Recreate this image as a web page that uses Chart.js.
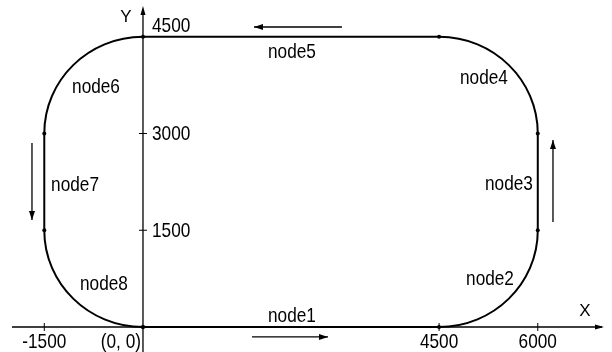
<!DOCTYPE html>
<html>
<head>
<meta charset="utf-8">
<script src="https://cdn.jsdelivr.net/npm/chart.js@4.4.1/dist/chart.umd.min.js"></script>
<style>
  html, body { margin: 0; padding: 0; background: #fff; }
  #wrap { width: 612px; height: 352px; }
</style>
</head>
<body>
<div id="wrap"><canvas id="track" width="612" height="352"></canvas></div>
<script>
// === Track data (mm) ===
const trackX = [0, 4500, 6000, 6000, 4500, 0, -1500, -1500, 0];
const trackY = [0, 0, 1500, 3000, 4500, 4500, 3000, 1500, 0];
// centres of the four corner arcs (segments 1, 3, 5, 7)
const arcCenterX = [4500, 4500, 0, 0];
const arcCenterY = [1500, 3000, 3000, 1500];

const nodeNames = ["node1", "node2", "node3", "node4", "node5", "node6", "node7", "node8"];

const xTickValues = [-1500, 0, 4500, 6000];
const xTickLabels = ["-1500", "(0, 0)", "4500", "6000"];
const yTickValues = [1500, 3000, 4500];
const yTickLabels = ["1500", "3000", "4500"];

// === Layout (data units) ===
const nodeLabelPos = [
  [2264, 171], [5274, 744], [5562, 2217], [5182, 3860],
  [2264, 4264], [-714, 3721], [-1033, 2202], [-593, 667],
];
// direction arrows: [x0, y0, x1, y1], head at (x1, y1)
const arrows = [
  [3024, 4651, 1687, 4651],
  [1657, -155, 2812, -155],
  [6231, 1628, 6231, 2899],
  [-1687, 2853, -1687, 1659],
];

function drawText(ctx, text, x, y, align, size, sx) {
  ctx.save();
  ctx.translate(x, y);
  ctx.scale(sx, 1);
  ctx.font = size + 'px "Liberation Sans", Arial, sans-serif';
  ctx.textAlign = align;
  ctx.textBaseline = "middle";
  ctx.fillStyle = "#000";
  ctx.fillText(text, 0, 0);
  ctx.restore();
}

function arrowHead(ctx, x0, y0, x1, y1, len, half) {
  const a = Math.atan2(y1 - y0, x1 - x0);
  ctx.beginPath();
  ctx.moveTo(x1, y1);
  ctx.lineTo(x1 - len * Math.cos(a) + half * Math.sin(a), y1 - len * Math.sin(a) - half * Math.cos(a));
  ctx.lineTo(x1 - len * Math.cos(a) - half * Math.sin(a), y1 - len * Math.sin(a) + half * Math.cos(a));
  ctx.closePath();
  ctx.fill();
}

const diagramPlugin = {
  id: "diagram",
  beforeDatasetsDraw(chart) {
    const { ctx, scales: { x, y } } = chart;
    const W = chart.width, H = chart.height;
    const px = (v) => x.getPixelForValue(v);
    const py = (v) => y.getPixelForValue(v);
    const ox = px(0), oy = py(0);

    ctx.save();
    ctx.strokeStyle = "#000";
    ctx.fillStyle = "#000";

    // axes
    ctx.lineWidth = 1.3;
    ctx.beginPath();
    ctx.moveTo(12, oy);
    ctx.lineTo(W - 10, oy);
    ctx.moveTo(ox, H);
    ctx.lineTo(ox, 10);
    ctx.stroke();
    arrowHead(ctx, ox - 10, oy, W - 8, oy, 9, 2.5);
    arrowHead(ctx, ox, oy + 10, ox, 6, 9, 2.5);

    // ticks
    ctx.lineWidth = 1;
    ctx.beginPath();
    xTickValues.forEach((v) => {
      if (v === 0) return;
      ctx.moveTo(px(v), oy - 4);
      ctx.lineTo(px(v), oy + 4);
    });
    yTickValues.forEach((v) => {
      ctx.moveTo(ox - 4, py(v));
      ctx.lineTo(ox + 4, py(v));
    });
    ctx.stroke();

    // tick labels
    xTickValues.forEach((v, i) => {
      if (v === 0) drawText(ctx, xTickLabels[i], ox - 2, oy + 15, "right", 21, 0.82);
      else drawText(ctx, xTickLabels[i], px(v), oy + 15, "center", 21, 0.82);
    });
    yTickValues.forEach((v, i) => {
      const ty = v === 4500 ? py(v) - 11 : py(v) + 1;
      drawText(ctx, yTickLabels[i], ox + 9, ty, "left", 21, 0.82);
    });
    drawText(ctx, "X", W - 27, oy - 16, "center", 17, 1);
    drawText(ctx, "Y", ox - 17, 17, "center", 17, 1);

    // track: straight segments and quarter-arc corners
    ctx.lineWidth = 2;
    ctx.beginPath();
    ctx.moveTo(px(trackX[0]), py(trackY[0]));
    const k = 0.5523;
    for (let i = 0; i < trackX.length - 1; i++) {
      const bx = px(trackX[i + 1]), by = py(trackY[i + 1]);
      if (i % 2 === 0) {
        ctx.lineTo(bx, by);
      } else {
        const ax = px(trackX[i]), ay = py(trackY[i]);
        const cx = px(arcCenterX[(i - 1) / 2]), cy = py(arcCenterY[(i - 1) / 2]);
        const kx = ax + bx - cx, ky = ay + by - cy;
        ctx.bezierCurveTo(
          ax + k * (kx - ax), ay + k * (ky - ay),
          bx + k * (kx - bx), by + k * (ky - by),
          bx, by
        );
      }
    }
    ctx.stroke();

    // direction arrows
    ctx.lineWidth = 1.3;
    arrows.forEach(([x0, y0, x1, y1]) => {
      ctx.beginPath();
      ctx.moveTo(px(x0), py(y0));
      ctx.lineTo(px(x1), py(y1));
      ctx.stroke();
      arrowHead(ctx, px(x0), py(y0), px(x1), py(y1), 9, 3);
    });

    // node labels
    nodeNames.forEach((name, i) => {
      drawText(ctx, name, px(nodeLabelPos[i][0]), py(nodeLabelPos[i][1]), "center", 21, 0.82);
    });
    ctx.restore();
  },
};

new Chart(document.getElementById("track"), {
  type: "scatter",
  data: {
    datasets: [
      {
        data: trackX.map((v, i) => ({ x: v, y: trackY[i] })),
        pointRadius: 2,
        pointBackgroundColor: "#000",
        pointBorderWidth: 0,
        showLine: false,
        clip: false,
      },
    ],
  },
  options: {
    responsive: false,
    animation: false,
    devicePixelRatio: 1,
    layout: { padding: 0, autoPadding: false },
    plugins: { legend: { display: false }, tooltip: { enabled: false } },
    scales: {
      x: { type: "linear", min: -2173, max: 7128, display: false },
      y: { type: "linear", min: -388, max: 5070, display: false },
    },
  },
  plugins: [diagramPlugin],
});
</script>
</body>
</html>
